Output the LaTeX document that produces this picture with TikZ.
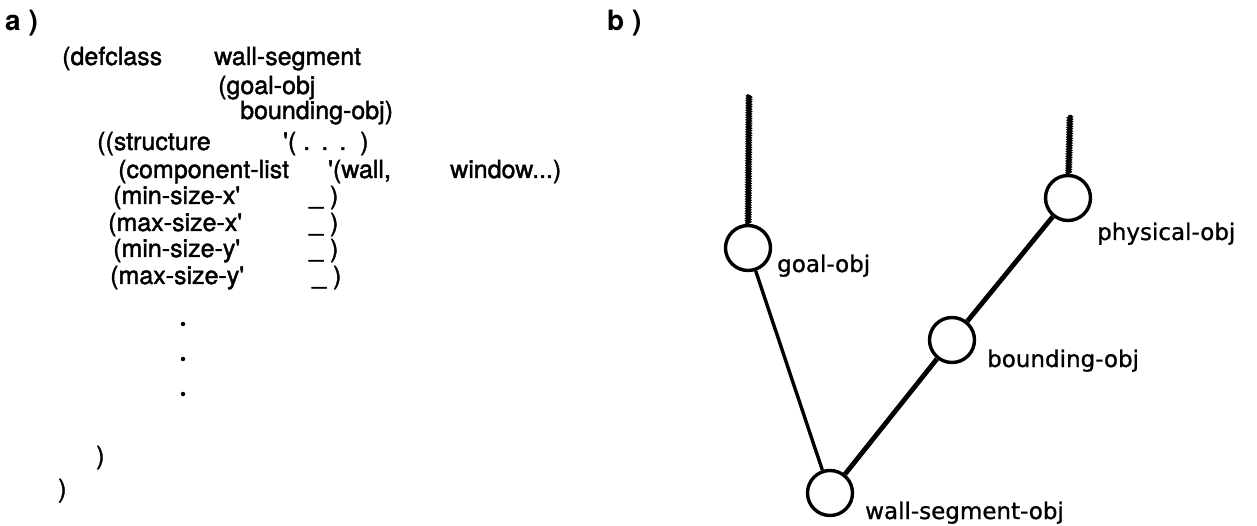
\documentclass[tikz,border=0pt]{standalone}
\usepackage{fontspec}
\setmainfont{TeX Gyre Heros}
\newfontfamily\codefont{TeX Gyre Heros}[FakeBold=1.6]
\newfontfamily\labelfont{DejaVu Sans}[FakeBold=1.0]
\usetikzlibrary{decorations.pathmorphing}
\begin{document}
\begin{tikzpicture}[x=1pt,y=-1pt,
  code/.style={anchor=base west,inner sep=0pt,font=\codefont\fontsize{25}{29}\selectfont},
  panel/.style={anchor=base west,inner sep=0pt,font=\fontsize{28}{32}\selectfont\bfseries},
  cls/.style={circle,draw,line width=3.4pt,minimum size=45pt,inner sep=0pt},
  lbl/.style={anchor=base west,inner sep=0pt,font=\labelfont\fontsize{23}{27}\selectfont},
  link/.style={line width=3.4pt},
  heavy/.style={line width=4.8pt},
  upward/.style={line width=3.2pt,decorate,decoration={snake,segment length=2.4pt,amplitude=0.9pt}},
  dot/.style={circle,fill,inner sep=0pt,minimum size=4.5pt}]
\path[use as bounding box] (0,0) rectangle (1257,526);

% panel a: the class definition
\node[panel] (pa) at (5,31) {a )};
\node[code] (l1a) at (62,65) {(defclass};
\node[code] (l1b) at (214,65) {wall-segment};
\node[code] (l2) at (218,94) {(goal-obj};
\node[code] (l3) at (240,119) {bounding-obj)};
\node[code] (l4a) at (97,150) {((structure};
\node[code] (l4b) at (283,150) {'(\ .\ \,.\ \,.\ \ )};
\node[code] (l5a) at (118,178) {(component-list};
\node[code] (l5b) at (328,178) {'(wall,};
\node[code] (l5c) at (450,178) {window...)};
\node[code] (l6a) at (113,204) {(min-size-x'};
\node[code] (l6b) at (309,204) {\_\ )};
\node[code] (l7a) at (108,231) {(max-size-x'};
\node[code] (l7b) at (309,231) {\_\ )};
\node[code] (l8a) at (113,257) {(min-size-y'};
\node[code] (l8b) at (309,257) {\_\ )};
\node[code] (l9a) at (110,284) {(max-size-y'};
\node[code] (l9b) at (312,284) {\_\ )};
\node[dot] (d1) at (183,324) {};
\node[dot] (d2) at (183,359) {};
\node[dot] (d3) at (183,394) {};
\node[code] (c1) at (96,464) {)};
\node[code] (c2) at (58,497) {)};

% panel b: the class lattice
\node[panel] (pb) at (607,31) {b )};
\node[cls] (goal) at (748,248) {};
\node[cls] (phys) at (1068,198) {};
\node[cls] (bound) at (952,340) {};
\node[cls] (wall) at (830,493) {};
\coordinate (goaltop) at (749,95);
\coordinate (phystop) at (1070,115);
\node[lbl] (goallbl) at (777,272) {goal-obj};
\node[lbl] (physlbl) at (1097,240) {physical-obj};
\node[lbl] (boundlbl) at (987,367) {bounding-obj};
\node[lbl] (walllbl) at (865,519) {wall-segment-obj};

\draw[upward] (goal) -- (goaltop);
\draw[upward] (phys) -- (phystop);
\draw[link] (goal) -- (wall);
\draw[heavy] (wall) -- (bound);
\draw[heavy] (bound) -- (phys);
\end{tikzpicture}
\end{document}
